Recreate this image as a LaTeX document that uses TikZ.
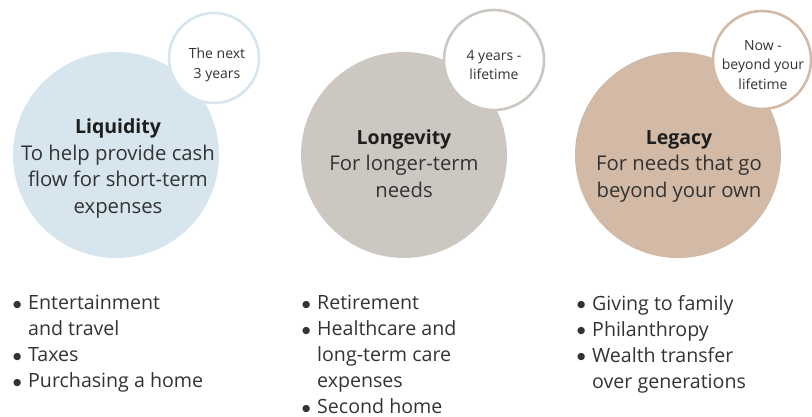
\documentclass[tikz,border=0pt]{standalone}
\usepackage{fontspec}
\setmainfont{Open Sans}
\newfontfamily\symf{DejaVu Sans}
\definecolor{cblue}{HTML}{D6E5EE}
\definecolor{cgray}{HTML}{CDC7C1}
\definecolor{ctan}{HTML}{D3BAA6}
\definecolor{txt}{HTML}{333333}
\definecolor{ttl}{HTML}{1E1E1E}
\tikzset{
  bigc/.style={circle, inner sep=0pt, minimum size=206pt},
  smallc/.style={circle, inner sep=0pt, fill=white, line width=2.6pt, minimum size=#1},
  body/.style={align=center, text=txt, font=\fontsize{20.3}{26.5}\selectfont},
  tag/.style={align=center, text=txt, font=\fontsize{14}{19.5}\selectfont},
  list/.style={align=left, anchor=north west, text=txt, inner sep=0pt, font=\fontsize{19.6}{26}\selectfont}
}
\newcommand{\ttlfont}{\bfseries\color{ttl}\fontsize{19.5}{26.5}\selectfont}
\newcommand{\bul}{\makebox[15pt][l]{\raisebox{2.4pt}{\symf\fontsize{9.5}{9.5}\selectfont ●}}}
\newcommand{\ind}{\hspace*{15pt}}
\begin{document}
\begin{tikzpicture}[x=1pt,y=-1pt]
\useasboundingbox (0,0) rectangle (812,417);
% big circles
\node[bigc, fill=cblue] (c1) at (116,155) {};
\node[bigc, fill=cgray] (c2) at (404,155) {};
\node[bigc, fill=ctan] (c3) at (678,155) {};
% small circles
\node[smallc=90pt, draw=cblue] (s1) at (214,58) {};
\node[smallc=100pt, draw=cgray] (s2) at (494,60) {};
\node[smallc=98pt, draw=ctan] (s3) at (762,60) {};
% circle texts
\node[body] (t1) at (118,168.5) {{\ttlfont Liquidity}\\To help provide cash\\flow for short-term\\expenses};
\node[body] (t2) at (404,163.5) {{\ttlfont Longevity}\\For longer-term\\needs};
\node[body] (t3) at (679,166) {{\ttlfont Legacy}\\For needs that go\\beyond your own};
\node[tag] (g1) at (217,65) {The next\\3 years};
\node[tag] (g2) at (494,65) {4 years -\\lifetime};
\node[tag] (g3) at (763,65) {Now -\\beyond your\\lifetime};
% lists
\node[list] (l1) at (13,295) {\bul Entertainment\\\ind and travel\\\bul Taxes\\\bul Purchasing a home};
\node[list] (l2) at (302,295) {\bul Retirement\\\bul Healthcare and\\\ind long-term care\\\ind expenses\\\bul Second home};
\node[list] (l3) at (577,295) {\bul Giving to family\\\bul Philanthropy\\\bul Wealth transfer\\\ind over generations};
\end{tikzpicture}
\end{document}
